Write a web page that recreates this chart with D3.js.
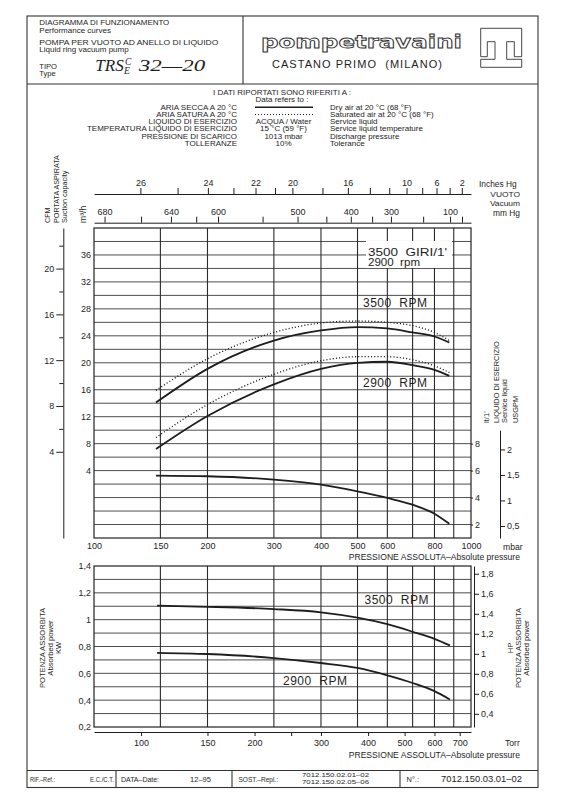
<!DOCTYPE html>
<html>
<head>
<meta charset="utf-8">
<script src="https://cdn.jsdelivr.net/npm/d3@7"></script>
<style>
  body { margin: 0; background: #fff; }
</style>
</head>
<body>
<svg id="chart" width="566" height="800"></svg>
<script>
// ---- data ----
// upper chart: suction capacity m3/h vs absolute pressure mbar
const pressureUp  = [146, 200, 300, 400, 500, 600, 700, 800, 876];
const flow3500Dry = [14.1, 19.1, 23.3, 24.8, 25.3, 25.1, 24.5, 23.9, 23.0];
const flow3500Sat = [15.9, 20.6, 24.5, 25.9, 26.2, 26.0, 25.5, 24.5, 23.3];
const flow2900Dry = [7.2, 12.1, 16.8, 19.1, 20.0, 20.15, 19.65, 18.95, 18.05];
const flow2900Sat = [8.9, 13.8, 18.3, 20.3, 20.9, 20.9, 20.45, 19.55, 18.55];
const liquidFlow  = [5.63, 5.58, 5.33, 4.96, 4.46, 3.97, 3.47, 2.8, 2.05];   // lt/1'

// lower chart: absorbed power kW vs absolute pressure mbar
const pressureLow = [147, 200, 300, 400, 500, 600, 700, 800, 879];
const power3500   = [1.104, 1.096, 1.079, 1.055, 1.015, 0.966, 0.91, 0.857, 0.808];
const power2900   = [0.753, 0.744, 0.714, 0.677, 0.64, 0.585, 0.528, 0.467, 0.405];

// ticks
const mbarLabels   = [100, 150, 200, 300, 400, 500, 600, 800, 1000];
const mbarGrid     = [150, 200, 300, 400, 500, 600, 700, 800, 900];
const inchTicks    = [26, 25, 24, 23, 22, 21, 20, 18, 16, 14, 12, 10, 8, 6, 4, 2];
const inchLabels   = [26, 24, 22, 20, 16, 10, 6, 2];
const mmTicks      = [680, 660, 640, 620, 600, 550, 500, 450, 400, 350, 300, 200, 100, 50];
const mmLabels     = [680, 640, 600, 500, 400, 300, 100];
const torrTicks    = [100, 150, 200, 250, 300, 400, 500, 600, 700];
const torrLabels   = [100, 150, 200, 300, 400, 500, 600, 700];
const flowLabels   = [4, 8, 12, 16, 20, 24, 28, 32, 36];
const cfmMajor     = [4, 8, 12, 16, 20];
const cfmMinor     = [6, 10, 14, 18, 22];
const liquidLabels = [2, 4, 6, 8];
const usgpmLabels  = [0.5, 1, 1.5, 2];
const kwLabels     = [0.2, 0.4, 0.6, 0.8, 1, 1.2, 1.4];
const hpLabels     = [0.4, 0.6, 0.8, 1, 1.2, 1.4, 1.6, 1.8];

// legend block
const legendIt  = ['ARIA SECCA A 20 °C', 'ARIA SATURA A 20 °C', 'LIQUIDO DI ESERCIZIO',
                   'TEMPERATURA LIQUIDO DI ESERCIZIO', 'PRESSIONE DI SCARICO', 'TOLLERANZE'];
const legendMid = ['', '', 'ACQUA / Water', '15 °C (59 °F)', '1013 mbar', '10%'];
const legendEn  = ['Dry air at 20 °C (68 °F)', 'Saturated air at 20 °C (68 °F)', 'Service liquid',
                   'Service liquid temperature', 'Discharge pressure', 'Tolerance'];

const FONT = '"Liberation Sans", Arial, sans-serif';
const SERIF = '"Liberation Serif", "DejaVu Serif", serif';
const INK = '#1e1e1e';

const svg = d3.select('#chart');
svg.append('rect').attr('width', 566).attr('height', 800).attr('fill', '#fff');

function txt(g, x, y, s, o) {
    o = o || {};
    const t = g.append('text')
        .attr('x', x).attr('y', y)
        .attr('font-family', o.family || FONT)
        .attr('font-size', o.size || 8)
        .attr('font-style', o.italic ? 'italic' : null)
        .attr('text-anchor', o.anchor || 'start')
        .attr('fill', INK)
        .text(s);
    if (o.len) t.attr('textLength', o.len).attr('lengthAdjust', 'spacingAndGlyphs');
    // keep the width of the larger size but make the glyphs a little lower (CAD lettering is wide)
    if (o.low) {
        const w = t.node().getComputedTextLength();
        t.attr('font-size', o.low).attr('textLength', w).attr('lengthAdjust', 'spacingAndGlyphs');
    }
    return t;
}
function vtxt(g, x, y, s, size, anchor, low) {
    const t = g.append('text')
        .attr('transform', 'translate(' + x + ',' + y + ') rotate(-90)')
        .attr('dy', '0.35em')
        .attr('font-family', FONT)
        .attr('font-size', size)
        .attr('text-anchor', anchor)
        .attr('fill', INK)
        .text(s);
    if (low) {
        const w = t.node().getComputedTextLength();
        t.attr('font-size', low).attr('textLength', w).attr('lengthAdjust', 'spacingAndGlyphs');
    }
    return t;
}
function styleAxis(g, size) {
    g.attr('font-family', FONT).attr('font-size', size).attr('color', INK);
    g.selectAll('line').attr('stroke-width', 1);
    g.select('.domain').attr('stroke-width', 1);
}
const comma = v => String(+v.toFixed(1)).replace('.', ',');

// ---- sheet frame ----
const sheet = svg.append('g').attr('stroke', '#333').attr('fill', 'none').attr('stroke-width', 1.1);
sheet.append('rect').attr('x', 27).attr('y', 16).attr('width', 511).attr('height', 771.5);
sheet.append('line').attr('x1', 27).attr('x2', 538).attr('y1', 84).attr('y2', 84);
sheet.append('line').attr('x1', 243).attr('x2', 243).attr('y1', 16).attr('y2', 84);
sheet.append('line').attr('x1', 27).attr('x2', 538).attr('y1', 770.5).attr('y2', 770.5);
[116, 232, 400].forEach(d => {
    sheet.append('line').attr('x1', d).attr('x2', d).attr('y1', 770.5).attr('y2', 787.5);
});

// ---- header ----
const head = svg.append('g');
txt(head, 39.3, 25.3, 'DIAGRAMMA DI FUNZIONAMENTO', {size: 7.2, len: 130});
txt(head, 39.3, 32.7, 'Performance curves', {size: 8, low: 7});
txt(head, 39.3, 45.3, 'POMPA PER VUOTO AD ANELLO DI LIQUIDO', {size: 7.2, len: 179});
txt(head, 39.3, 52, 'Liquid ring vacuum pump', {size: 8, low: 7});
txt(head, 39.3, 68.7, 'TIPO', {size: 7.6, low: 7});
txt(head, 39.3, 76, 'Type', {size: 7.6, low: 7});
txt(head, 95.3, 71, 'TRS', {size: 17, family: SERIF, italic: true, len: 28.5});
txt(head, 125, 65.3, 'C', {size: 9.5, family: SERIF, italic: true});
txt(head, 124, 74.3, 'E', {size: 9.5, family: SERIF, italic: true});
txt(head, 138.7, 71, '32—20', {size: 17, family: SERIF, italic: true, len: 66.5});

head.append('text')
    .attr('x', 261).attr('y', 47.5)
    .attr('font-family', '"DejaVu Sans", sans-serif')
    .attr('font-weight', 'bold')
    .attr('font-size', 17)
    .attr('textLength', 201).attr('lengthAdjust', 'spacingAndGlyphs')
    .attr('fill', '#fff').attr('stroke', '#333').attr('stroke-width', 0.8)
    .text('pompetravaini');
txt(head, 272, 67.5, 'CASTANO PRIMO\u00a0\u00a0(MILANO)', {size: 11}).attr('textLength', 170);
head.append('path')
    .attr('d', 'M487.3,56.7 H480.7 V28.3 H521.7 V56.7 H514.3 V41.7 H506.7 V59.3 H521.7 V67.3 H480.7 V59.3 H495 V41.7 H487.3 Z')
    .attr('fill', 'none').attr('stroke', '#333').attr('stroke-width', 0.9);

// ---- legend block ----
const leg = svg.append('g');
txt(leg, 282, 94.5, 'I DATI RIPORTATI SONO RIFERITI A :', {size: 8, anchor: 'middle', low: 6.8});
txt(leg, 282, 102, 'Data refers to :', {size: 8, anchor: 'middle', low: 6.8});
legendIt.forEach((s, i) => {
    const y = 110 + i * 7.15;
    txt(leg, 237, y, s, {size: 8, anchor: 'end', low: 6.4});
    if (legendMid[i]) txt(leg, 283.5, y, legendMid[i], {size: 8, anchor: 'middle', low: 6.4});
    txt(leg, 330, y, legendEn[i], {size: 8, low: 6.4});
});
leg.append('line').attr('x1', 255).attr('x2', 313).attr('y1', 107.3).attr('y2', 107.3)
    .attr('stroke', INK).attr('stroke-width', 1.6);
leg.append('line').attr('x1', 255).attr('x2', 313).attr('y1', 114.5).attr('y2', 114.5)
    .attr('stroke', INK).attr('stroke-width', 1.1).attr('stroke-dasharray', '1 2');

// ---- scales ----
const x = d3.scaleLog().domain([100, 1000]).range([94, 471]);
const yQ = d3.scaleLinear().domain([-6, 40]).range([538, 228]);        // m3/h
const yL = d3.scaleLinear().domain([1, 24]).range([538, 228]);         // lt/1'
const yCfm = d3.scaleLinear().domain([-6 / 1.699, 40 / 1.699]).range([538, 228]);
const yGpm = d3.scaleLinear().domain([1 / 3.785, 9 / 3.785]).range([yL(1), yL(9)]);
const yP = d3.scaleLinear().domain([0.2, 1.4]).range([727, 566]);      // kW
const yHp = d3.scaleLinear().domain([0.2 / 0.7457, 1.4 / 0.7457]).range([727, 566]);
const xTorr = d3.scaleLog().domain([100 / 1.33322, 1000 / 1.33322]).range([94, 471]);

const inchToMbar = v => (29.92 - v) * 33.864;
const mmToMbar = v => (760 - v) * 1.33322;

// ---- top vacuum axes ----
const inchAxis = svg.append('g').attr('transform', 'translate(0,194)')
    .call(d3.axisTop(x).tickValues(inchTicks.map(inchToMbar)).tickSize(6).tickSizeOuter(0).tickPadding(2)
        .tickFormat((d, i) => inchLabels.includes(inchTicks[i]) ? inchTicks[i] : ''));
styleAxis(inchAxis, 9);
const mmAxis = svg.append('g').attr('transform', 'translate(0,222.7)')
    .call(d3.axisTop(x).tickValues(mmTicks.map(mmToMbar)).tickSize(6).tickSizeOuter(0).tickPadding(2)
        .tickFormat((d, i) => mmLabels.includes(mmTicks[i]) ? mmTicks[i] : ''));
styleAxis(mmAxis, 9);
txt(svg, 479, 186.5, 'Inches Hg', {size: 8.4});
txt(svg, 520, 197, 'VUOTO', {size: 8.4, anchor: 'end', low: 7.6});
txt(svg, 520, 206, 'Vacuum', {size: 8.4, anchor: 'end', low: 7.6});
txt(svg, 520, 216, 'mm Hg', {size: 8.4, anchor: 'end'});

// ---- upper chart grid ----
const up = svg.append('g');
up.selectAll('.hg').data(d3.range(-4, 40, 2)).enter().append('line')
    .attr('x1', 94).attr('x2', 471).attr('y1', d => yQ(d)).attr('y2', d => yQ(d))
    .attr('stroke', '#3a3a3a').attr('stroke-width', 0.9);
up.selectAll('.vg').data(mbarGrid).enter().append('line')
    .attr('x1', d => x(d)).attr('x2', d => x(d)).attr('y1', 228).attr('y2', 538)
    .attr('stroke', '#2a2a2a').attr('stroke-width', 1.1);
up.append('rect').attr('x', 94).attr('y', 228).attr('width', 377).attr('height', 310)
    .attr('fill', 'none').attr('stroke', '#222').attr('stroke-width', 1.2);

// speed box
up.append('rect').attr('x', 366).attr('y', 241).attr('width', 86).attr('height', 27).attr('fill', '#fff');
txt(up, 368, 255.5, '3500\u00a0\u00a0GIRI/1\'', {size: 11, len: 79});
txt(up, 368, 266, '2900\u00a0\u00a0rpm', {size: 11, len: 52});

// axes of upper chart
const flowAxis = up.append('g').attr('transform', 'translate(94,0)')
    .call(d3.axisLeft(yQ).tickValues(flowLabels).tickSize(0).tickPadding(3));
flowAxis.select('.domain').remove();
styleAxis(flowAxis, 9);

const cfmAxis = up.append('g').attr('transform', 'translate(63.3,0)')
    .call(d3.axisLeft(yCfm).tickValues(cfmMajor).tickSize(7).tickSizeOuter(0).tickPadding(2));
styleAxis(cfmAxis, 9);
const cfmMinorAxis = up.append('g').attr('transform', 'translate(63.3,0)')
    .call(d3.axisLeft(yCfm).tickValues(cfmMinor).tickSize(4).tickSizeOuter(0).tickFormat(''));
cfmMinorAxis.select('.domain').remove();
styleAxis(cfmMinorAxis, 9);

const liqAxis = up.append('g').attr('transform', 'translate(471,0)')
    .call(d3.axisRight(yL).tickValues(liquidLabels).tickSize(2).tickPadding(2));
liqAxis.select('.domain').remove();
styleAxis(liqAxis, 9);

const gpmAxis = up.append('g').attr('transform', 'translate(500,0)')
    .call(d3.axisRight(yGpm).tickValues(usgpmLabels).tickSize(5).tickSizeOuter(0).tickPadding(2)
        .tickFormat(comma));
styleAxis(gpmAxis, 9);

const mbarAxis = up.append('g').attr('transform', 'translate(0,538)')
    .call(d3.axisBottom(x).tickValues(mbarLabels).tickSize(0).tickPadding(5).tickFormat(d3.format('d')));
mbarAxis.select('.domain').remove();
styleAxis(mbarAxis, 9);
txt(up, 503, 550, 'mbar', {size: 8.6});
txt(up, 520, 560, 'PRESSIONE ASSOLUTA–Absolute pressure', {size: 8.6, anchor: 'end'});

// rotated titles
vtxt(up, 48, 223, 'CFM', 7.2, 'start', 6.4);
vtxt(up, 56.5, 223, 'PORTATA ASPIRATA', 7.2, 'start', 6.4);
vtxt(up, 64.5, 223, 'Suction capacity', 7.2, 'start', 6.4);
vtxt(up, 83, 223, 'm³/h', 8.6, 'start');
vtxt(up, 486.5, 423, 'lt/1\'', 7.6, 'start');
vtxt(up, 497, 423, 'LIQUIDO DI ESERCIZIO', 7.4, 'start', 6.6);
vtxt(up, 505, 423, 'Service liquid', 7.4, 'start', 6.6);
vtxt(up, 515.5, 423, 'USGPM', 7.4, 'start');

// curves of upper chart
const lineQ = d3.line().x(d => x(d[0])).y(d => yQ(d[1])).curve(d3.curveMonotoneX);
const lineL = d3.line().x(d => x(d[0])).y(d => yL(d[1])).curve(d3.curveMonotoneX);
const zip = (a, b) => a.map((v, i) => [v, b[i]]);

[flow3500Sat, flow2900Sat].forEach(s => {
    up.append('path').datum(zip(pressureUp, s)).attr('d', lineQ)
        .attr('fill', 'none').attr('stroke', INK).attr('stroke-width', 1.3).attr('stroke-dasharray', '1.1 2.1');
});
[flow3500Dry, flow2900Dry].forEach(s => {
    up.append('path').datum(zip(pressureUp, s)).attr('d', lineQ)
        .attr('fill', 'none').attr('stroke', INK).attr('stroke-width', 1.8);
});
up.append('path').datum(zip(pressureUp, liquidFlow)).attr('d', lineL)
    .attr('fill', 'none').attr('stroke', INK).attr('stroke-width', 1.8);

txt(up, 363, 307, '3500\u00a0\u00a0RPM', {size: 12}).attr('textLength', 64);
txt(up, 363, 387, '2900\u00a0\u00a0RPM', {size: 12}).attr('textLength', 64);

// ---- lower chart ----
const low = svg.append('g');
low.selectAll('.hg').data(d3.range(0.3, 1.35, 0.1)).enter().append('line')
    .attr('x1', 94).attr('x2', 471).attr('y1', d => yP(d)).attr('y2', d => yP(d))
    .attr('stroke', '#3a3a3a').attr('stroke-width', 0.9);
low.selectAll('.vg').data(mbarGrid).enter().append('line')
    .attr('x1', d => x(d)).attr('x2', d => x(d)).attr('y1', 566).attr('y2', 727)
    .attr('stroke', '#2a2a2a').attr('stroke-width', 1.1);
low.append('rect').attr('x', 94).attr('y', 566).attr('width', 377).attr('height', 161)
    .attr('fill', 'none').attr('stroke', '#222').attr('stroke-width', 1.2);

const kwAxis = low.append('g').attr('transform', 'translate(94,0)')
    .call(d3.axisLeft(yP).tickValues(kwLabels).tickSize(0).tickPadding(3).tickFormat(comma));
kwAxis.select('.domain').remove();
styleAxis(kwAxis, 9);

const hpAxis = low.append('g').attr('transform', 'translate(474,0)')
    .call(d3.axisRight(yHp).tickValues(hpLabels).tickSize(5).tickSizeOuter(0).tickPadding(2).tickFormat(comma));
styleAxis(hpAxis, 9);

const torrAxis = low.append('g').attr('transform', 'translate(0,732)')
    .call(d3.axisBottom(xTorr).tickValues(torrTicks).tickSize(4).tickSizeOuter(0).tickPadding(4)
        .tickFormat(d => torrLabels.includes(d) ? d : ''));
styleAxis(torrAxis, 9);
txt(low, 505, 746, 'Torr', {size: 8.6});
txt(low, 520, 758, 'PRESSIONE ASSOLUTA–Absolute pressure', {size: 8.6, anchor: 'end'});

vtxt(low, 42.5, 648, 'POTENZA ASSORBITA', 7.6, 'middle', 6.8);
vtxt(low, 50.5, 648, 'Absorbed power', 7.6, 'middle', 6.8);
vtxt(low, 59, 648, 'KW', 7.6, 'middle', 6.8);
vtxt(low, 510.5, 648, 'HP', 7.6, 'middle', 6.8);
vtxt(low, 518.5, 648, 'POTENZA ASSORBITA', 7.6, 'middle', 6.8);
vtxt(low, 526.5, 648, 'Absorbed power', 7.6, 'middle', 6.8);

const lineP = d3.line().x(d => x(d[0])).y(d => yP(d[1])).curve(d3.curveMonotoneX);
[power3500, power2900].forEach(s => {
    low.append('path').datum(zip(pressureLow, s)).attr('d', lineP)
        .attr('fill', 'none').attr('stroke', INK).attr('stroke-width', 1.8);
});
txt(low, 364.5, 604, '3500\u00a0\u00a0RPM', {size: 12}).attr('textLength', 64);
txt(low, 283, 685, '2900\u00a0\u00a0RPM', {size: 12}).attr('textLength', 64);

// ---- footer ----
const foot = svg.append('g');
txt(foot, 30, 782, 'RIF.–Ref.:', {size: 7.6, len: 25});
txt(foot, 90, 782, 'E.C./C.T.', {size: 7.6, len: 24});
txt(foot, 121, 782, 'DATA–Date:', {size: 7.6, len: 38});
txt(foot, 190, 782, '12–95', {size: 7.6, len: 21});
txt(foot, 238.5, 782, 'SOST.–Repl.:', {size: 7.6, len: 39.5});
txt(foot, 302, 777.3, '7012.150.02.01–02', {size: 4.8, len: 67});
txt(foot, 302, 784, '7012.150.02.05–06', {size: 4.8, len: 67});
txt(foot, 406.5, 782, 'N°.:', {size: 7.6, len: 12.5});
txt(foot, 441, 782, '7012.150.03.01–02', {size: 8.2, len: 81});
</script>
</body>
</html>
